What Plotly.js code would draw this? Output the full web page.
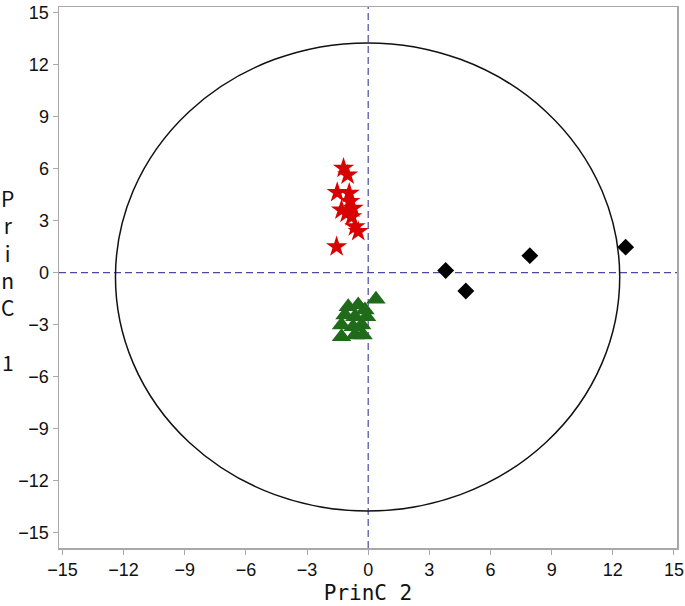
<!DOCTYPE html>
<html>
<head>
<meta charset="utf-8">
<script src="https://cdn.plot.ly/plotly-3.0.1.min.js"></script>
<style>
  html, body { margin: 0; padding: 0; background: #fff; }
  #chart { width: 685px; height: 606px; }
</style>
</head>
<body>
<div id="chart"></div>
<script>
// Group 1 (red stars)
const starX = [-1.21, -1.01, -1.52, -0.93, -0.90, -1.31, -0.74, -1.06, -0.81, -0.65, -0.49, -1.55];
const starY = [6.02, 5.64, 4.62, 4.58, 4.10, 3.62, 3.72, 3.43, 3.23, 2.65, 2.37, 1.50];
// Group 2 (green triangles)
const triX = [0.38, -0.98, -0.49, -0.16, -1.14, -0.65, -0.08, -1.31, -0.74, -0.32, -1.31, -0.65, -0.25];
const triY = [-1.53, -1.96, -1.86, -2.15, -2.44, -2.54, -2.54, -3.02, -3.12, -3.02, -3.69, -3.59, -3.59];
// Group 3 (black diamonds)
const diaX = [3.80, 4.79, 7.93, 12.63];
const diaY = [0.12, -1.06, 0.98, 1.47];
// Axis ticks
const tickVals = [-15, -12, -9, -6, -3, 0, 3, 6, 9, 12, 15];
// Reference ellipse bounds (data units)
const ellX = [-12.40, 12.34];
const ellY = [-13.75, 13.25];

const traces = [
  { type: 'scatter', mode: 'markers', x: starX, y: starY,
    marker: { symbol: 'star', size: 16, color: '#d90000', line: { width: 0 } }, hoverinfo: 'x+y' },
  { type: 'scatter', mode: 'markers', x: triX, y: triY,
    marker: { symbol: 'triangle-up', size: 17, color: '#1f6b1a', line: { width: 0 } }, hoverinfo: 'x+y' },
  { type: 'scatter', mode: 'markers', x: diaX, y: diaY,
    marker: { symbol: 'diamond', size: 13, color: '#000000', line: { width: 0 } }, hoverinfo: 'x+y' }
];

const axisCommon = {
  tickvals: tickVals,
  ticks: 'outside', ticklen: 5, tickwidth: 1, tickcolor: '#a8a8a8',
  showline: true, linecolor: '#a8a8a8', linewidth: 1.5, mirror: true,
  showgrid: false, zeroline: false,
  ticklabeloverflow: 'allow',
  tickfont: { family: 'Liberation Sans, Arial, sans-serif', size: 18, color: '#111' }
};

const layout = {
  width: 685, height: 606,
  margin: { l: 59, r: 8, t: 7, b: 58 },
  paper_bgcolor: '#ffffff', plot_bgcolor: '#ffffff',
  showlegend: false,
  xaxis: Object.assign({}, axisCommon, {
    range: [-15.17, 15.15],
    title: { text: 'PrinC 2', standoff: 6,
      font: { family: 'DejaVu Sans Mono, monospace', size: 21, color: '#111' } }
  }),
  yaxis: Object.assign({}, axisCommon, {
    range: [-15.88, 15.32]
  }),
  annotations: [{
    xref: 'paper', yref: 'paper', x: -0.083, y: 0.495,
    xanchor: 'center', yanchor: 'middle', showarrow: false,
    text: 'P<br>r<br>i<br>n<br>C<br> <br>1',
    font: { family: 'Noto Sans CJK JP, Noto Sans, sans-serif', size: 21, color: '#111' }
  }],
  shapes: [
    { type: 'circle', xref: 'x', yref: 'y', x0: ellX[0], x1: ellX[1], y0: ellY[0], y1: ellY[1],
      line: { color: '#111', width: 1.5 }, layer: 'below' },
    { type: 'line', xref: 'x', yref: 'paper', x0: 0, x1: 0, y0: 0, y1: 1,
      line: { color: '#4a4aa0', width: 1.2, dash: '7px,4px' }, layer: 'below' },
    { type: 'line', xref: 'paper', yref: 'y', x0: 0, x1: 1, y0: 0, y1: 0,
      line: { color: '#4a4aa0', width: 1.2, dash: '7px,4px' }, layer: 'below' }
  ]
};

Plotly.newPlot('chart', traces, layout, { displayModeBar: false, staticPlot: true });
</script>
</body>
</html>
